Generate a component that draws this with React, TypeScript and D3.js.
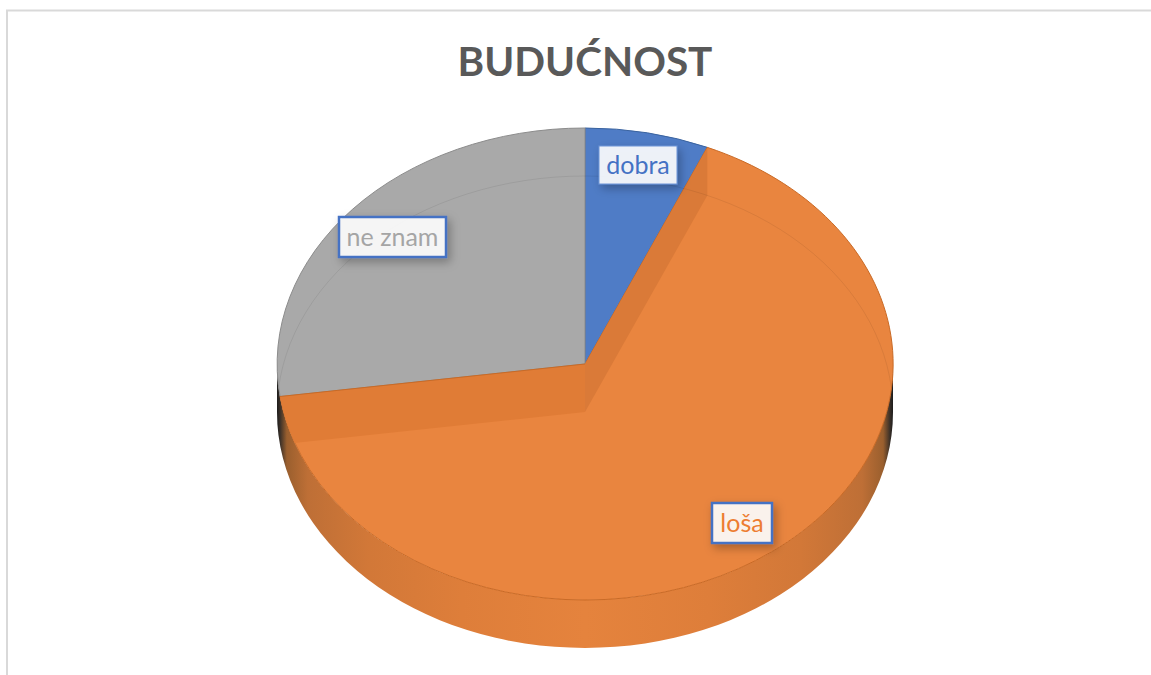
import React from "react";
import * as d3 from "d3";

const categories = ["dobra", "loša", "ne znam"];
const shares = [6.5, 66.3, 27.2];
const sliceColors = ["#4F7CC6", "#E9853F", "#A9A9A9"];
const edgeColors = ["#3A639F", "#C96A26", "#8C8C8C"];
const labelColors = ["#4472C4", "#ED7D31", "#A5A5A5"];
const titleText = "BUDUĆNOST";

const W = 1151, H = 675;
const cx = 585, cy = 364, rx = 308, ry = 236, depth = 48;

type Box = { x: number; y: number; w: number; h: number; bw: number; stroke: string };
const labelBoxes: Box[] = [
  { x: 599, y: 146, w: 78, h: 38, bw: 1, stroke: "#6C93D6" },
  { x: 712, y: 503, w: 60, h: 40, bw: 2.5, stroke: "#4472C4" },
  { x: 339, y: 217, w: 107, h: 40, bw: 2.5, stroke: "#4472C4" },
];

const pie = d3.pie<number>().sort(null).startAngle(0).endAngle(2 * Math.PI);
const arcs = pie(shares);
const unitArc = d3.arc<d3.PieArcDatum<number>>().innerRadius(0).outerRadius(1);
const project = (a: number): [number, number] => [cx + rx * Math.sin(a), cy - ry * Math.cos(a)];

const wallStops: [number, string][] = [
  [0, "#1C1C1C"], [0.005, "#3A3028"], [0.016, "#9A5F2E"], [0.05, "#BE6F36"], [0.15, "#D27838"],
  [0.3, "#DE7E3A"], [0.5, "#E5833D"], [0.7, "#DE7E3A"], [0.85, "#D27838"], [0.95, "#BE6F36"],
  [0.984, "#9A5F2E"], [0.995, "#3A3028"], [1, "#1C1C1C"],
];

const sidePath = `M${cx - rx},${cy} A${rx},${ry} 0 0 0 ${cx + rx},${cy} L${cx + rx},${cy + depth} A${rx},${ry} 0 0 1 ${cx - rx},${cy + depth} Z`;
const backRim = `M${cx - rx},${cy + depth} A${rx},${ry} 0 0 1 ${cx + rx},${cy + depth}`;

export default function App() {
  const orange = arcs[1];
  const inner = [orange.startAngle, orange.endAngle].map(project);
  const wallPath = (p: [number, number]) =>
    `M${cx},${cy} L${p[0]},${p[1]} L${p[0]},${p[1] + depth} L${cx},${cy + depth} Z`;

  return (
    <svg width={W} height={H} viewBox={`0 0 ${W} ${H}`} style={{ position: "fixed", left: 0, top: 0, background: "#fff" }}>
      <defs>
        <linearGradient id="wall" gradientUnits="userSpaceOnUse" x1={cx - rx} x2={cx + rx} y1={0} y2={0}>
          {wallStops.map(([o, c]) => <stop key={o} offset={o} stopColor={c} />)}
        </linearGradient>
        <clipPath id="topFace"><ellipse cx={cx} cy={cy} rx={rx} ry={ry} /></clipPath>
        <filter id="boxShadow" x="-30%" y="-40%" width="160%" height="190%">
          <feDropShadow dx={3} dy={4} stdDeviation={5} floodColor="#000" floodOpacity={0.3} />
        </filter>
      </defs>

      <path d={`M7,675 V10.5 H${W}`} fill="none" stroke="#D9D9D9" strokeWidth={2} />

      <text x={585} y={76} textAnchor="middle" fontFamily="Lato, 'Open Sans', sans-serif" fontWeight={700} fontSize={40.5} fill="#595959">
        {titleText}
      </text>

      <path d={sidePath} fill="url(#wall)" />

      <g transform={`translate(${cx},${cy}) scale(${rx},${ry})`}>
        {arcs.map((a, i) => (
          <path key={categories[i]} d={unitArc(a) as string} fill={sliceColors[i]} stroke={edgeColors[i]} strokeWidth={1} vectorEffect="non-scaling-stroke" />
        ))}
      </g>

      <g clipPath="url(#topFace)">
        <path d={wallPath(inner[0])} fill="#DA7A38" />
        <path d={wallPath(inner[1])} fill="#E07C36" />
        <path d={backRim} fill="none" stroke="#000" strokeOpacity={0.07} strokeWidth={1} />
      </g>
      <path d={`M${inner[1][0]},${inner[1][1]} L${cx},${cy}`} stroke="#C96A26" strokeWidth={1} />

      {categories.map((c, i) => {
        const b = labelBoxes[i];
        return (
          <g key={c}>
            <rect x={b.x} y={b.y} width={b.w} height={b.h} fill="#FFFFFF" fillOpacity={0.89} stroke={b.stroke} strokeWidth={b.bw} filter="url(#boxShadow)" />
            <text x={b.x + b.w / 2} y={b.y + b.h / 2 + 9} textAnchor="middle" fontFamily="Lato, 'Open Sans', sans-serif" fontSize={25} fill={labelColors[i]}>
              {c}
            </text>
          </g>
        );
      })}
    </svg>
  );
}
